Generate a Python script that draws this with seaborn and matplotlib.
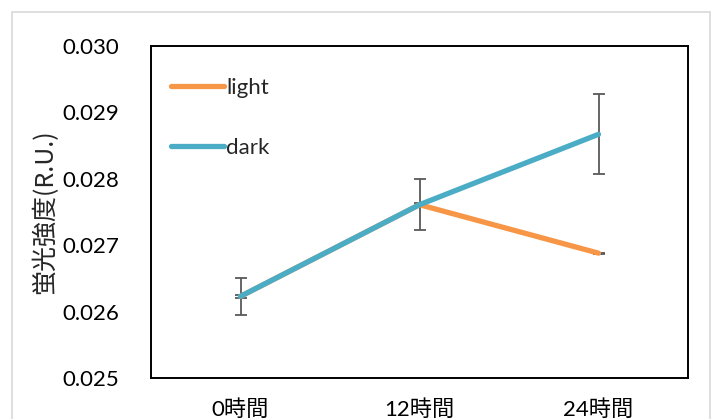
import matplotlib
matplotlib.use("Agg")
import matplotlib.pyplot as plt
import seaborn as sns
import pandas as pd
from matplotlib.patches import Rectangle

categories = ["0時間", "12時間", "24時間"]
light_values = [0.02623, 0.02761, 0.02688]
light_errors = [0.00002, 0.00002, 0.00001]
dark_values = [0.02623, 0.02761, 0.02867]
dark_errors = [0.00028, 0.00038, 0.00060]
series_names = ["light", "dark"]
colors = {"light": "#F79646", "dark": "#4BACC6"}
y_ticks = [0.025, 0.026, 0.027, 0.028, 0.029, 0.030]

sns.set_style("white")
plt.rcParams["font.family"] = ["Lato", "Noto Sans CJK JP", "DejaVu Sans"]

df = pd.DataFrame({
    "time": categories * 2,
    "value": light_values + dark_values,
    "series": [series_names[0]] * 3 + [series_names[1]] * 3,
})

fig = plt.figure(figsize=(7.13, 4.19), dpi=100)
fig.patches.append(Rectangle((12 / 713, -0.1), 698 / 713, 1.1 - 12 / 419,
                             transform=fig.transFigure, fill=False,
                             edgecolor="#D9D9D9", linewidth=1.2, zorder=0))
ax = fig.add_axes([151 / 713, 1 - 378 / 419, 537 / 713, 332 / 419])

ax.errorbar(categories, light_values, yerr=light_errors, fmt="none",
            ecolor="#595959", elinewidth=1.3, capsize=4.5, capthick=1.3, zorder=1)
ax.errorbar(categories, dark_values, yerr=dark_errors, fmt="none",
            ecolor="#595959", elinewidth=1.3, capsize=4.5, capthick=1.3, zorder=1)
sns.lineplot(data=df, x="time", y="value", hue="series", palette=colors,
             linewidth=3.8, ax=ax, zorder=3, solid_capstyle="round")

ax.set_xlim(-0.5, 2.5)
ax.set_ylim(0.025, 0.030)
ax.set_yticks(y_ticks)
ax.set_yticklabels([f"{t:.3f}" for t in y_ticks])
ax.tick_params(axis="both", direction="in", length=6, width=1.2,
               labelsize=16, colors="black")
ax.tick_params(axis="x", pad=15)
ax.tick_params(axis="y", pad=23)
for s in ax.spines.values():
    s.set_color("black")
    s.set_linewidth(1.4)
ax.set_xlabel("")
ax.set_ylabel("蛍光強度(R.U.)", fontsize=18,
              family=["Noto Sans CJK JP", "DejaVu Sans"])
ax.yaxis.set_label_coords(-0.173, 0.5)

leg = ax.legend(loc="upper left", frameon=False, fontsize=16,
                handlelength=2.4, handletextpad=0.1, labelspacing=1.8,
                bbox_to_anchor=(0.02, 0.93), borderaxespad=0)
for line in leg.get_lines():
    line.set_linewidth(3.8)

fig.savefig("out.png", dpi=100)
